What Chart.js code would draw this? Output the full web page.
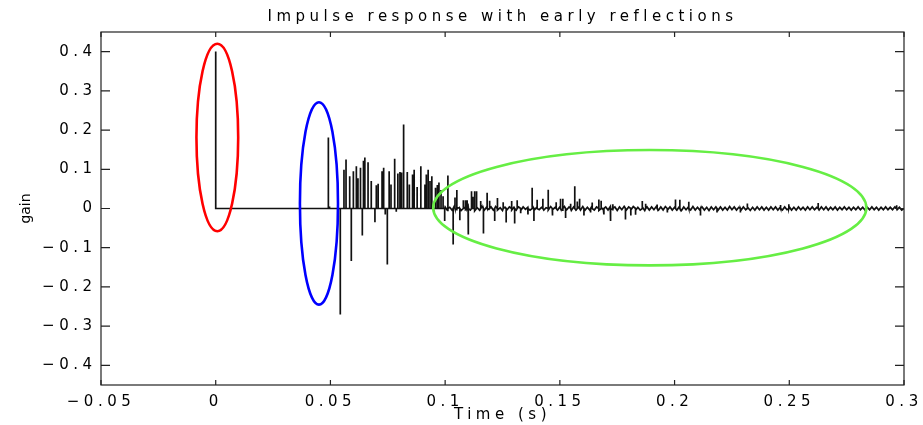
<!DOCTYPE html>
<html>
<head>
<meta charset="utf-8">
<script src="https://cdn.jsdelivr.net/npm/chart.js@4.4.1/dist/chart.umd.min.js"></script>
<style>
  html, body { margin: 0; padding: 0; background: #fff; }
  #wrap { width: 923px; height: 425px; }
</style>
</head>
<body>
<div id="wrap"><canvas id="ir"></canvas></div>
<script>
// direct sound + discrete reflections (time in s, gain)
const reflTimes = [
  0, 0.0491, 0.0496, 0.0543, 0.0559, 0.0568, 0.0584, 0.0591, 0.0600, 0.0613,
  0.0620, 0.0631, 0.0639, 0.0644, 0.0650, 0.0664, 0.0678, 0.0694, 0.0700, 0.0708,
  0.0725, 0.0732, 0.0739, 0.0748, 0.0756, 0.0764, 0.0780, 0.0787, 0.0794, 0.0803,
  0.0810, 0.0819, 0.0835, 0.0844, 0.0858, 0.0865, 0.0878, 0.0894, 0.0912, 0.0918,
  0.0926, 0.0934, 0.0942, 0.0958, 0.0966, 0.0973, 0.0982, 0.0991, 0.0998, 0.1012,
  0.1035, 0.1043, 0.1051, 0.1064, 0.1079, 0.1088, 0.1096, 0.1101, 0.1115, 0.1121,
  0.1128, 0.1137, 0.1155, 0.1167, 0.1183, 0.1194, 0.1216, 0.1227, 0.1253, 0.1266,
  0.1290, 0.1303, 0.1314, 0.1329, 0.1361, 0.1379, 0.1387, 0.1401, 0.1426, 0.1449,
  0.1467, 0.1484, 0.1503, 0.1513, 0.1525, 0.1547, 0.1565, 0.1576, 0.1586, 0.1605,
  0.1634, 0.1641, 0.1670, 0.1680, 0.1692, 0.1721, 0.1731, 0.1786, 0.1809, 0.1830,
  0.1859, 0.1874, 0.1924, 0.1968, 0.2004, 0.2023, 0.2062, 0.2113, 0.2185, 0.2287,
  0.2316, 0.2462, 0.2498, 0.2626, 0.2968
];
const reflGains = [
  0.400, 0.181, 0.005, -0.270, 0.099, 0.125, 0.082, -0.134, 0.095, 0.108,
  0.077, 0.104, -0.069, 0.122, 0.130, 0.118, 0.070, -0.035, 0.059, 0.063,
  0.095, 0.104, -0.015, -0.143, 0.095, 0.061, 0.127, -0.008, 0.089, 0.093,
  0.092, 0.214, 0.093, 0.061, 0.087, 0.099, 0.055, 0.108, 0.061, 0.087,
  0.099, 0.070, 0.082, 0.053, 0.060, 0.066, 0.047, 0.031, -0.032, 0.084,
  -0.092, 0.028, 0.047, -0.030, 0.021, 0.021, 0.021, -0.066, 0.044, 0.030,
  0.044, 0.044, 0.019, -0.064, 0.040, 0.020, -0.032, 0.027, 0.016, -0.036,
  0.019, -0.038, 0.021, -0.012, -0.015, 0.053, -0.032, 0.022, 0.025, 0.048,
  -0.018, 0.016, 0.025, 0.025, -0.024, 0.012, 0.057, 0.018, 0.025, -0.018,
  -0.010, 0.015, 0.023, 0.020, -0.015, -0.032, 0.011, -0.028, -0.018, -0.016,
  0.019, 0.012, 0.010, -0.010, 0.023, 0.022, 0.017, -0.018, -0.010, -0.010,
  0.013, 0.009, 0.011, 0.014, 0.008
];

// diffuse tail, sampled every 1 ms from 0.1 s to 0.3 s
const tailStart = 0.1;
const tailStep = 0.001;
const tailGains = [
  0.004, -0.005, 0.003, -0.004, 0.006, -0.003, 0.002, -0.005, 0.004, -0.003,
  0.005, -0.004, 0.003, -0.006, 0.002, -0.004, 0.005, -0.005, 0.003, -0.002,
  0.004, -0.004, 0.005, -0.004, 0.002, -0.005, 0.003, -0.003, 0.004, -0.004,
  0.003, -0.004, 0.004, -0.005, 0.004, -0.002, 0.003, -0.004, 0.003, -0.003,
  0.004, -0.003, 0.003, -0.004, 0.002, -0.004, 0.005, -0.003, 0.003, -0.004,
  0.004, -0.004, 0.005, -0.003, 0.004, -0.005, 0.004, -0.004, 0.003, -0.004,
  0.005, -0.004, 0.003, -0.004, 0.005, -0.004, 0.004, -0.005, 0.003, -0.004,
  0.004, -0.004, 0.005, -0.003, 0.004, -0.005, 0.004, -0.003, 0.005, -0.004,
  0.004, -0.004, 0.005, -0.005, 0.003, -0.004, 0.004, -0.005, 0.004, -0.004,
  0.004, -0.003, 0.005, -0.004, 0.004, -0.004, 0.005, -0.004, 0.004, -0.004,
  0.003, -0.004, 0.004, -0.005, 0.004, -0.003, 0.004, -0.004, 0.005, -0.004,
  0.003, -0.004, 0.004, -0.004, 0.003, -0.005, 0.004, -0.003, 0.004, -0.004,
  0.004, -0.004, 0.003, -0.004, 0.005, -0.003, 0.004, -0.004, 0.003, -0.004,
  0.004, -0.003, 0.004, -0.005, 0.003, -0.004, 0.004, -0.003, 0.004, -0.004,
  0.003, -0.004, 0.004, -0.003, 0.004, -0.004, 0.003, -0.004, 0.004, -0.003,
  0.004, -0.004, 0.003, -0.004, 0.004, -0.003, 0.003, -0.004, 0.004, -0.003,
  0.004, -0.003, 0.003, -0.004, 0.004, -0.003, 0.004, -0.004, 0.003, -0.003,
  0.004, -0.004, 0.003, -0.003, 0.004, -0.003, 0.003, -0.004, 0.003, -0.003,
  0.004, -0.003, 0.003, -0.004, 0.003, -0.003, 0.004, -0.003, 0.003, -0.004,
  0.003, -0.003, 0.004, -0.003, 0.003, -0.003, 0.004, -0.003, 0.003, -0.004,
  0.003
];

const xTicks = [-0.05, 0, 0.05, 0.1, 0.15, 0.2, 0.25, 0.3];
const yTicks = [-0.4, -0.3, -0.2, -0.1, 0, 0.1, 0.2, 0.3, 0.4];

// rings marking direct sound, early reflections and late reverb
const rings = [
  { x: 0.0007, y: 0.181, rx: 0.0091, ry: 0.239, color: '#ff0000' },
  { x: 0.0450, y: 0.013, rx: 0.0083, ry: 0.258, color: '#0000ff' },
  { x: 0.1892, y: 0.002, rx: 0.0944, ry: 0.147, color: '#66ee44' }
];

const FONT = 'DejaVu Sans';
const SPACING = '4.5px';

// each reflection is a spike up from zero and back
let pts = [];
for (let i = 0; i < reflTimes.length; i++) {
  const t = reflTimes[i];
  pts.push({ x: t, y: 0 }, { x: t, y: reflGains[i] }, { x: t, y: 0 });
}
tailGains.forEach((g, i) => {
  pts.push({ x: tailStart + i * tailStep, y: g });
});
pts.push({ x: 0.3, y: 0 });
pts.sort((a, b) => a.x - b.x);

function fmt(v) {
  if (Math.abs(v) < 1e-9) return '0';
  return String(Number(v.toFixed(2))).replace('-', '\u2212');
}

const boxPlugin = {
  id: 'box',
  beforeLayout(chart) { chart.ctx.letterSpacing = SPACING; },
  beforeDraw(chart) { chart.ctx.letterSpacing = SPACING; },
  afterDatasetsDraw(chart) {
    const ctx = chart.ctx;
    const xs = chart.scales.x, ys = chart.scales.y;
    ctx.save();
    ctx.lineWidth = 2.6;
    rings.forEach(r => {
      const cx = xs.getPixelForValue(r.x);
      const cy = ys.getPixelForValue(r.y);
      const rx = Math.abs(xs.getPixelForValue(r.x + r.rx) - cx);
      const ry = Math.abs(ys.getPixelForValue(r.y + r.ry) - cy);
      ctx.strokeStyle = r.color;
      ctx.beginPath();
      ctx.ellipse(cx, cy, rx, ry, 0, 0, Math.PI * 2);
      ctx.stroke();
    });
    ctx.restore();
  },
  afterDraw(chart) {
    const ctx = chart.ctx;
    const a = chart.chartArea;
    const xs = chart.scales.x, ys = chart.scales.y;
    ctx.save();
    ctx.strokeStyle = '#222';
    ctx.lineWidth = 1.2;
    ctx.strokeRect(a.left, a.top, a.right - a.left, a.bottom - a.top);
    ctx.beginPath();
    xTicks.forEach(v => {
      const px = xs.getPixelForValue(v);
      ctx.moveTo(px, a.bottom); ctx.lineTo(px, a.bottom - 5);
      ctx.moveTo(px, a.top); ctx.lineTo(px, a.top + 5);
    });
    yTicks.forEach(v => {
      const py = ys.getPixelForValue(v);
      ctx.moveTo(a.left, py); ctx.lineTo(a.left + 9, py);
      ctx.moveTo(a.right, py); ctx.lineTo(a.right - 9, py);
    });
    ctx.stroke();

    // y axis label
    ctx.letterSpacing = '0px';
    ctx.translate(26, ys.getPixelForValue(0));
    ctx.rotate(-Math.PI / 2);
    ctx.fillStyle = '#000';
    ctx.font = '14px "' + FONT + '"';
    ctx.textAlign = 'center';
    ctx.textBaseline = 'middle';
    ctx.fillText('gain', 0, 0);
    ctx.restore();
  }
};

new Chart(document.getElementById('ir'), {
  type: 'scatter',
  data: {
    datasets: [{
      data: pts,
      showLine: true,
      borderColor: '#111',
      borderWidth: 1.7,
      pointRadius: 0,
      tension: 0
    }]
  },
  options: {
    responsive: true,
    maintainAspectRatio: false,
    animation: false,
    events: [],
    layout: { padding: { left: 0, right: 19, top: 0, bottom: 0 } },
    plugins: {
      legend: { display: false },
      tooltip: { enabled: false },
      title: {
        display: true,
        fullSize: false,
        text: 'Impulse response with early reflections',
        color: '#000',
        font: { family: FONT, size: 15, weight: 'normal' },
        padding: { top: 8, bottom: 6 }
      }
    },
    scales: {
      x: {
        type: 'linear',
        min: -0.05,
        max: 0.3,
        grid: { display: false },
        border: { display: false },
        afterBuildTicks: s => { s.ticks = xTicks.map(v => ({ value: v })); },
        afterFit: s => { s.height = 40; s.paddingLeft = 0; s.paddingRight = 0; },
        ticks: {
          autoSkip: false,
          maxRotation: 0,
          padding: 0,
          color: '#000',
          font: { family: FONT, size: 15 },
          callback: v => fmt(v)
        },
        title: {
          display: true,
          text: 'Time (s)',
          color: '#000',
          font: { family: FONT, size: 15 },
          padding: { top: 0, bottom: 1 }
        }
      },
      y: {
        type: 'linear',
        min: -0.45,
        max: 0.45,
        grid: { display: false, drawTicks: false },
        border: { display: false },
        afterBuildTicks: s => { s.ticks = yTicks.map(v => ({ value: v })); },
        afterFit: s => { s.width = 101; s.paddingTop = 0; s.paddingBottom = 0; },
        ticks: {
          autoSkip: false,
          padding: 4.5,
          color: '#000',
          font: { family: FONT, size: 15 },
          callback: v => fmt(v)
        }
      }
    }
  },
  plugins: [boxPlugin]
});
</script>
</body>
</html>
